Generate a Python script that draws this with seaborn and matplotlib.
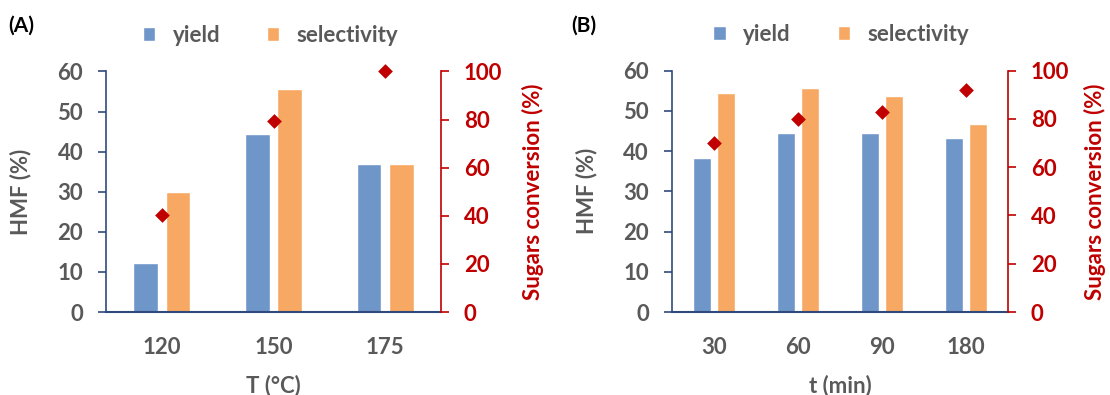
import numpy as np
import pandas as pd
import matplotlib
matplotlib.use("Agg")
import matplotlib.pyplot as plt
import seaborn as sns

# ---- data ----
temp_labels = ["120", "150", "175"]
temp_yield = [12.3, 44.4, 36.8]
temp_selectivity = [30.0, 55.6, 36.8]
temp_conversion = [40.2, 79.6, 100.0]

time_labels = ["30", "60", "90", "180"]
time_yield = [38.2, 44.4, 44.4, 43.2]
time_selectivity = [54.4, 55.6, 53.6, 46.8]
time_conversion = [70.1, 79.8, 82.7, 91.8]

series_names = ["yield", "selectivity"]

BLUE = "#6F96C9"
ORANGE = "#F7A862"
RED = "#C00000"
GREY = "#595959"
NAVY = "#2E4A7D"

sns.set_theme(style="white")
plt.rcParams["font.family"] = ["Lato", "DejaVu Sans"]
plt.rcParams["font.weight"] = "bold"
plt.rcParams["axes.labelweight"] = "bold"

FS = 16

fig = plt.figure(figsize=(11.10, 3.95), dpi=100)


def panel(rect, cats, yld, sel, conv, xlabel, tag, tagx, legx, lab_l, lab_r):
    ax = fig.add_axes(rect)
    df = pd.DataFrame({
        "cat": cats * 2,
        "val": list(yld) + list(sel),
        "series": [series_names[0]] * len(cats) + [series_names[1]] * len(cats),
    })
    sns.barplot(data=df, x="cat", y="val", hue="series", order=cats,
                hue_order=series_names, palette=[BLUE, ORANGE],
                width=0.58, gap=0.24, saturation=1, ax=ax, legend=True)
    ax.set_ylim(0, 60)
    ax.set_yticks(np.arange(0, 61, 10))
    ax.set_xlim(-0.5, len(cats) - 0.5)
    ax.set_xlabel(xlabel, fontsize=FS, color=GREY, labelpad=12,
                  fontweight="bold")
    ax.set_ylabel("HMF (%)", fontsize=FS, color=GREY, fontweight="bold")
    ax.yaxis.label.set_va("center")
    ax.yaxis.set_label_coords(lab_l, 0.5)
    ax.tick_params(axis="y", colors=GREY, labelsize=FS, length=5.5, width=1.2,
                   direction="out", left=True, color=NAVY, pad=11)
    ax.tick_params(axis="x", colors=GREY, labelsize=FS, length=0, pad=18)
    for lab in ax.get_xticklabels() + ax.get_yticklabels():
        lab.set_fontweight("bold")
    for s in ["top", "right"]:
        ax.spines[s].set_visible(False)
    ax.spines["left"].set_color(NAVY)
    ax.spines["bottom"].set_color(NAVY)
    ax.spines["left"].set_linewidth(1.2)
    ax.spines["bottom"].set_linewidth(1.5)

    handles, labels = ax.get_legend_handles_labels()
    leg = ax.legend(handles, labels, loc="center", bbox_to_anchor=(legx, 1.15),
                    ncol=2, frameon=False, fontsize=FS, handlelength=0.55,
                    handleheight=0.55, handletextpad=0.8, columnspacing=2.1,
                    labelcolor=GREY)
    for t in leg.get_texts():
        t.set_fontweight("bold")

    ax2 = ax.twinx()
    sns.stripplot(x=cats, y=conv, order=cats, jitter=False, marker="D",
                  color=RED, size=7.5, ax=ax2, zorder=5, clip_on=False)
    ax2.set_ylim(0, 100)
    ax2.set_yticks(np.arange(0, 101, 20))
    ax2.set_xlim(-0.5, len(cats) - 0.5)
    ax2.set_ylabel("Sugars conversion (%)", fontsize=FS, color=RED,
                   fontweight="bold")
    ax2.yaxis.label.set_va("center")
    ax2.yaxis.set_label_coords(lab_r, 0.5)
    ax2.tick_params(axis="y", colors=RED, labelsize=FS, length=5.5, width=1.2,
                    direction="out", right=True, pad=11)
    for lab in ax2.get_yticklabels():
        lab.set_color(RED)
        lab.set_fontweight("bold")
    for s in ["top", "left", "bottom"]:
        ax2.spines[s].set_visible(False)
    ax2.spines["right"].set_visible(True)
    ax2.spines["right"].set_color(RED)
    ax2.spines["right"].set_linewidth(1.2)

    fig.text(tagx, 0.934, tag, fontsize=15, fontweight="bold", color="black",
             ha="left", va="center")
    return ax, ax2


panel([0.0955, 0.2101, 0.3018, 0.6089], temp_labels, temp_yield,
      temp_selectivity, temp_conversion, "T (°C)", "(A)", 0.007, 0.491,
      -0.254, 1.275)
panel([0.6054, 0.2101, 0.3027, 0.6114], time_labels, time_yield,
      time_selectivity, time_conversion, "t (min)", "(B)", 0.515, 0.504,
      -0.253, 1.259)

fig.savefig("out.png", dpi=100)
